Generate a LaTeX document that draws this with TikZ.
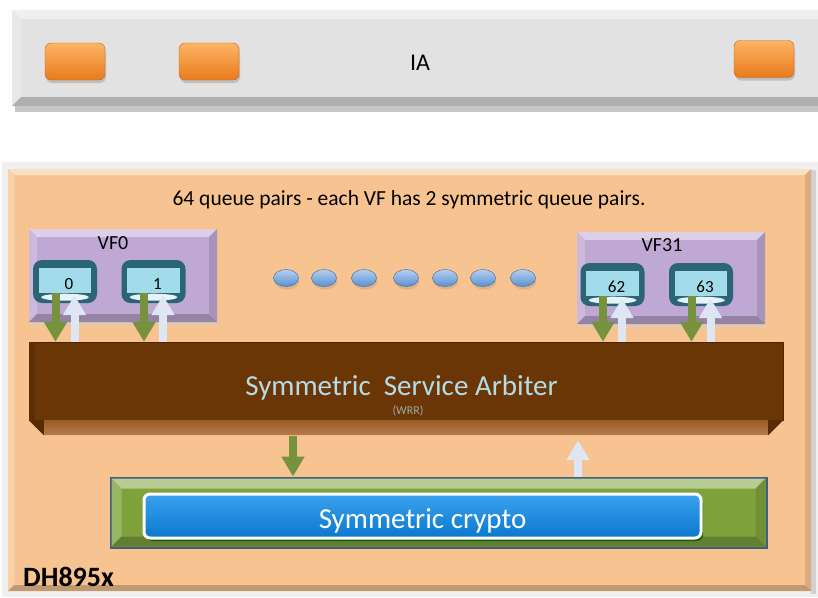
\documentclass[tikz,border=0pt]{standalone}
\usepackage{fontspec}
\setmainfont{Carlito}
\usetikzlibrary{arrows.meta,shapes.geometric,shadows}
\definecolor{iagray}{HTML}{E2E2E2}
\definecolor{orgtop}{HTML}{FDB465}
\definecolor{orgbot}{HTML}{E97A1C}
\definecolor{orgline}{HTML}{C8661A}
\definecolor{peach}{HTML}{F7C491}
\definecolor{lav}{HTML}{BFA8D3}
\definecolor{teal}{HTML}{2B6575}
\definecolor{qlight}{HTML}{A2DCEB}
\definecolor{qrim}{HTML}{E6F3F7}
\definecolor{brown}{HTML}{6B3606}
\definecolor{brownbev}{HTML}{A8652C}
\definecolor{arbtext}{HTML}{B4DCE7}
\definecolor{garr}{HTML}{76923C}
\definecolor{warr}{HTML}{DDE6F2}
\definecolor{cryborder}{HTML}{3E5E82}
\definecolor{crygreen}{HTML}{7FA23D}
\definecolor{cblue}{HTML}{0B78CF}
\definecolor{cbluetop}{HTML}{3AA2EE}
\definecolor{dotblue}{HTML}{5B8FD0}
\definecolor{dottop}{HTML}{B5D0F2}
\newcommand\bevbox[6]{%
  \fill[#6] (#1,#2) rectangle (#3,#4);
  \fill[#6!55!white] (#1,#2)--(#3,#2)--({#3-#5},{#2+#5})--({#1+#5},{#2+#5})--cycle;
  \fill[#6!80!white] (#1,#2)--({#1+#5},{#2+#5})--({#1+#5},{#4-#5})--(#1,#4)--cycle;
  \fill[#6!88!black] (#3,#2)--(#3,#4)--({#3-#5},{#4-#5})--({#3-#5},{#2+#5})--cycle;
  \fill[#6!78!black] (#1,#4)--(#3,#4)--({#3-#5},{#4-#5})--({#1+#5},{#4-#5})--cycle;
}
\newcommand\queuecyl[4]{%
  \node[qbody] (#1) at (#2,#3) {};
  \fill[qlight] ([xshift=6pt,yshift=-8pt]#1.north west) rectangle ([xshift=-6pt,yshift=10pt]#1.south east);
  \fill[qrim] ([yshift=6pt]#1.south) ellipse [x radius=24pt, y radius=3.5pt];
  \node[qlabel] (#1t) at ([xshift=4pt,yshift=-7.5pt]#1.center) {#4};
}
\begin{document}
\begin{tikzpicture}[x=1pt,y=-1pt,
  sq/.style={rounded corners=6pt,minimum width=60pt,minimum height=37pt,inner sep=0pt,
    top color=orgtop,bottom color=orgbot,draw=orgline,
    drop shadow={shadow xshift=1pt,shadow yshift=-3pt,opacity=0.35}},
  qbody/.style={rounded corners=9pt,minimum width=64pt,minimum height=43pt,inner sep=0pt,fill=teal},
  qlabel/.style={font=\fontsize{17}{19}\selectfont,text=black,anchor=base},
  dot/.style={ellipse,minimum width=25pt,minimum height=17pt,inner sep=0pt,
    top color=dottop,bottom color=dotblue,draw=dotblue!70!black,
    drop shadow={shadow xshift=1pt,shadow yshift=-3pt,opacity=0.25}},
  garrow/.style={draw=garr,line width=8pt,-{Triangle[width=22pt,length=20pt]}},
  warrow/.style={draw=warr,line width=8pt,-{Triangle[width=22pt,length=20pt]}},
  hdr/.style={font=\fontsize{20}{24}\selectfont,anchor=base},
]
\clip (0,0) rectangle (818,597);
\fill[white] (0,0) rectangle (818,597);

% ---------- IA box ----------
\fill[black!22] (15,106) rectangle (830,112);
\bevbox{12}{10}{830}{106}{9}{iagray}
\node[font=\fontsize{24}{28}\selectfont,anchor=base] (ia) at (420,70) {IA};
\node[sq] (c1) at (75,61.5) {};
\node[sq] (c2) at (209,61.5) {};
\node[sq] (c3) at (764,59) {};

% ---------- DH895x box ----------
\fill[black!6] (2,162) rectangle (818,597);
\fill[black!18] (811,170) rectangle (816,594);
\bevbox{8}{169}{811}{591}{6}{peach}
\node[hdr,font=\fontsize{21.5}{24}\selectfont] (hdr) at (409,205) {64 queue pairs - each VF has 2 symmetric queue pairs.};

% VF boxes
\fill[black!20,opacity=0.5] (31,322) rectangle (219,326);
\bevbox{29}{229}{217}{322}{8}{lav}
\path (29,229) rectangle (217,322) node[pos=0.5,inner sep=0pt] (vf0box) {};
\node[hdr] (vf0) at (113,249) {VF0};
\fill[black!20,opacity=0.5] (579,324) rectangle (767,328);
\bevbox{577}{232}{765}{324}{8}{lav}
\path (577,232) rectangle (765,324) node[pos=0.5,inner sep=0pt] (vf31box) {};
\node[hdr] (vf31) at (662,251) {VF31};

% queues
\queuecyl{q0}{65}{281.5}{0}
\queuecyl{q1}{153.5}{281.5}{1}
\queuecyl{q62}{612.5}{284.5}{62}
\queuecyl{q63}{701}{284.5}{63}

% dots
\foreach \i/\x in {1/286,2/324,3/364,4/406,5/445,6/483,7/523}
  \node[dot] (d\i) at (\x,278) {};

% ---------- Arbiter ----------
\node[fill=brown,draw=brown!70!black,minimum width=754pt,minimum height=78pt,inner sep=0pt] (arb) at (406,381) {};
\fill[brown!85!black] (arb.north west) rectangle ([xshift=6pt]arb.south west);
\shade[top color=brownbev!80!brown,bottom color=brownbev!85!white]
  (arb.south west) -- (arb.south east) -- ([xshift=-15pt,yshift=-15pt]arb.south east)
  -- ([xshift=15pt,yshift=-15pt]arb.south west) -- cycle;
\fill[brown!80!black] (arb.south west) -- ([xshift=15pt,yshift=-15pt]arb.south west) -- ([xshift=15pt]arb.south west) -- cycle;
\fill[brown!80!black] (arb.south east) -- ([xshift=-15pt,yshift=-15pt]arb.south east) -- ([xshift=-15pt]arb.south east) -- cycle;
\node[font=\fontsize{29}{32}\selectfont,text=arbtext,anchor=base] (arbt) at (401.5,395) {Symmetric\ \ Service Arbiter};
\node[font=\fontsize{12}{14}\selectfont,text=arbtext!70!brown,anchor=base] (wrr) at (408,414) {(WRR)};

% arrows VF <-> arbiter
\foreach \q in {q0,q1,q62,q63}{
  \coordinate (\q g) at ([xshift=-9.5pt,yshift=10pt]\q.south);
  \coordinate (\q w) at ([xshift=9.5pt,yshift=8pt]\q.south);
  \draw[garrow] (\q g) -- (\q g |- arb.north);
  \draw[warrow] (\q w |- arb.north) -- (\q w);
}

% ---------- Symmetric crypto ----------
\node[draw=cryborder,line width=3pt,fill=crygreen,minimum width=655pt,minimum height=69pt,inner sep=0pt] (cry) at (438.5,512.5) {};
\bevbox{111.5}{478.5}{765.5}{546.5}{10}{crygreen}
\node[rounded corners=6pt,draw=white,line width=3pt,top color=cbluetop,bottom color=cblue,
  minimum width=557pt,minimum height=44pt,inner sep=0pt,
  drop shadow={shadow xshift=2pt,shadow yshift=-3pt,opacity=0.8,fill=green!35!black}] (cryin) at (422.5,516) {};
\node[font=\fontsize{29}{32}\selectfont,text=white,anchor=base] (cryt) at (422.5,528) {Symmetric crypto};

\coordinate (ga) at ([xshift=-113pt,yshift=-16pt]arb.south);
\coordinate (wa) at ([xshift=172pt,yshift=-20pt]arb.south);
\draw[garrow] (ga) -- (ga |- cry.north);
\draw[warrow] (wa |- cry.north) -- (wa);

\node[font=\bfseries\fontsize{28}{30}\selectfont,anchor=base west,inner sep=0pt] (dh) at (23,586) {DH895x};
\end{tikzpicture}
\end{document}
